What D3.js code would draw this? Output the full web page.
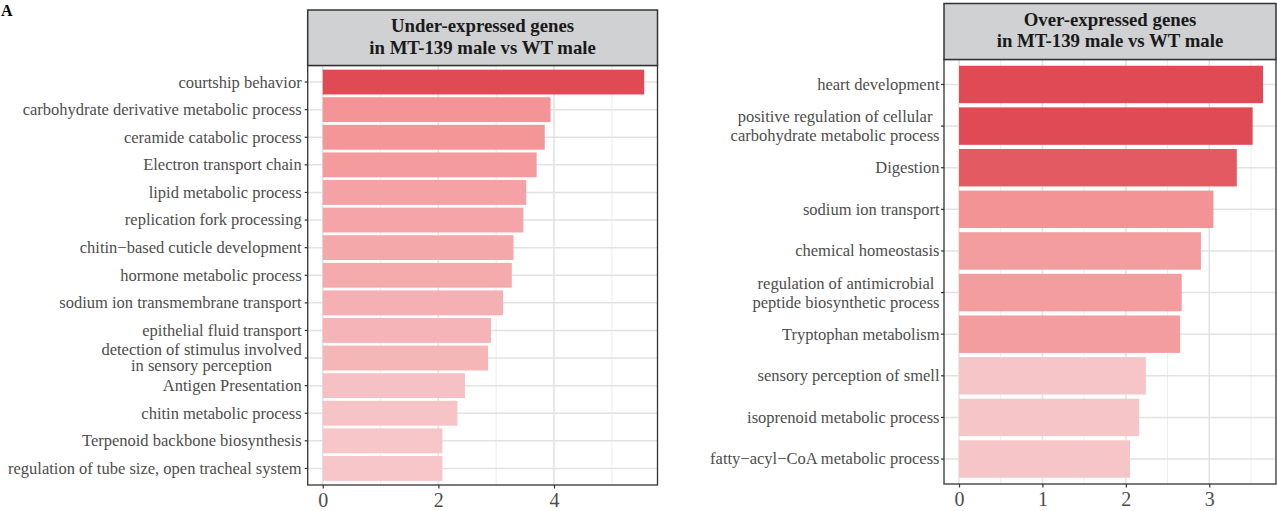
<!DOCTYPE html>
<html>
<head>
<meta charset="utf-8">
<script src="https://cdn.jsdelivr.net/npm/d3@7/dist/d3.min.js"></script>
<style>
  html, body { margin: 0; padding: 0; background: #fff; }
  svg { display: block; }
  text { font-family: "Liberation Serif", "Times New Roman", serif; }
</style>
</head>
<body>
<svg id="chart" width="1277" height="511"></svg>
<script>
// GO / pathway terms enriched among under-expressed genes (top to bottom)
const underTerms = [
  "courtship behavior",
  "carbohydrate derivative metabolic process",
  "ceramide catabolic process",
  "Electron transport chain",
  "lipid metabolic process",
  "replication fork processing",
  "chitin\u2212based cuticle development",
  "hormone metabolic process",
  "sodium ion transmembrane transport",
  "epithelial fluid transport",
  "detection of stimulus involved\nin sensory perception",
  "Antigen Presentation",
  "chitin metabolic process",
  "Terpenoid backbone biosynthesis",
  "regulation of tube size, open tracheal system"
];
// -log10(p) for each under-expressed term
const underValues = [5.56, 3.94, 3.84, 3.70, 3.52, 3.47, 3.30, 3.27, 3.12, 2.91, 2.86, 2.46, 2.33, 2.07, 2.07];
// relative significance (0-1) used for bar shading
const underShade = [1.0, 0.48, 0.46, 0.42, 0.35, 0.33, 0.30, 0.28, 0.22, 0.185, 0.17, 0.065, 0.046, 0.02, 0.02];

// terms enriched among over-expressed genes (top to bottom)
const overTerms = [
  "heart development",
  "positive regulation of cellular\ncarbohydrate metabolic process",
  "Digestion",
  "sodium ion transport",
  "chemical homeostasis",
  "regulation of antimicrobial\npeptide biosynthetic process",
  "Tryptophan metabolism",
  "sensory perception of smell",
  "isoprenoid metabolic process",
  "fatty\u2212acyl\u2212CoA metabolic process"
];
const overValues = [3.645, 3.52, 3.33, 3.05, 2.90, 2.67, 2.65, 2.24, 2.16, 2.05];
const overShade = [1.0, 1.0, 0.89, 0.49, 0.40, 0.40, 0.40, 0.03, 0.03, 0.03];

const underTicks = [0, 2, 4];
const underMinor = [1, 3, 5];
const overTicks = [0, 1, 2, 3];
const overMinor = [0.5, 1.5, 2.5, 3.5];

const underTitle = ["Under-expressed genes", "in MT-139 male vs WT male"];
const overTitle = ["Over-expressed genes", "in MT-139 male vs WT male"];

const svg = d3.select("#chart");

// light pink -> salmon -> red
const shadeScale = d3.scaleLinear()
  .domain([0, 0.5, 1])
  .range(["#f6c8cb", "#f49294", "#e04a55"])
  .interpolate(d3.interpolateRgb);

function drawPanel(cfg) {
  const g = svg.append("g");
  const x = d3.scaleLinear().domain(cfg.xDomain).range([cfg.left, cfg.right]);
  const y = d3.scaleBand().domain(cfg.terms)
    .range([cfg.top, cfg.bottom])
    .paddingInner(0.1).paddingOuter(0.15);

  // panel background
  g.append("rect")
    .attr("x", cfg.left).attr("y", cfg.top)
    .attr("width", cfg.right - cfg.left).attr("height", cfg.bottom - cfg.top)
    .attr("fill", "#fff");

  // minor grid
  g.selectAll(".minor").data(cfg.minor).join("line")
    .attr("x1", d => x(d)).attr("x2", d => x(d))
    .attr("y1", cfg.top).attr("y2", cfg.bottom)
    .attr("stroke", "#e8e8e8").attr("stroke-width", 0.8);
  // major grid
  g.selectAll(".majorx").data(cfg.ticks).join("line")
    .attr("x1", d => x(d)).attr("x2", d => x(d))
    .attr("y1", cfg.top).attr("y2", cfg.bottom)
    .attr("stroke", "#e2e2e2").attr("stroke-width", 1.5);
  g.selectAll(".majory").data(cfg.terms).join("line")
    .attr("x1", cfg.left).attr("x2", cfg.right)
    .attr("y1", d => y(d) + y.bandwidth() / 2).attr("y2", d => y(d) + y.bandwidth() / 2)
    .attr("stroke", "#e2e2e2").attr("stroke-width", 1.5);

  // bars
  g.selectAll(".bar").data(cfg.terms).join("rect")
    .attr("x", x(0))
    .attr("y", d => y(d))
    .attr("width", (d, i) => x(cfg.values[i]) - x(0))
    .attr("height", y.bandwidth())
    .attr("fill", (d, i) => shadeScale(cfg.shade[i]));

  // panel border
  g.append("rect")
    .attr("x", cfg.left).attr("y", cfg.top)
    .attr("width", cfg.right - cfg.left).attr("height", cfg.bottom - cfg.top)
    .attr("fill", "none").attr("stroke", "#333").attr("stroke-width", 1.3);

  // strip with title
  g.append("rect")
    .attr("x", cfg.left).attr("y", cfg.stripTop)
    .attr("width", cfg.right - cfg.left).attr("height", cfg.top - cfg.stripTop)
    .attr("fill", "#d0d1d3").attr("stroke", "#333").attr("stroke-width", 1.5);
  const cx = (cfg.left + cfg.right) / 2;
  const title = g.append("text")
    .attr("text-anchor", "middle")
    .attr("font-size", 18.8).attr("font-weight", "bold")
    .attr("fill", "#1a1a1a");
  cfg.title.forEach((t, i) => {
    title.append("tspan")
      .attr("x", cx).attr("y", cfg.stripTop + 22 + i * 21.5)
      .text(t);
  });

  // x axis
  const xAxis = d3.axisBottom(x).tickValues(cfg.ticks).tickSize(3.5).tickSizeOuter(0).tickFormat(d3.format("d"));
  const ax = g.append("g").attr("transform", `translate(0,${cfg.bottom})`).call(xAxis);
  ax.select(".domain").remove();
  ax.selectAll(".tick line").attr("stroke", "#333").attr("stroke-width", 1.2);
  ax.selectAll(".tick text")
    .attr("y", 8).attr("dy", "0.71em")
    .attr("font-size", 20).attr("fill", "#4d4d4d")
    .attr("font-family", "Liberation Serif, serif");

  // y ticks
  g.selectAll(".ytick").data(cfg.terms).join("line")
    .attr("x1", cfg.left - 3).attr("x2", cfg.left)
    .attr("y1", d => y(d) + y.bandwidth() / 2).attr("y2", d => y(d) + y.bandwidth() / 2)
    .attr("stroke", "#333").attr("stroke-width", 1.2);

  // y labels (multi-line labels are centered within their block)
  const endX = cfg.left - cfg.labelGap;
  cfg.terms.forEach(term => {
    const lines = term.split("\n");
    const cy = y(term) + y.bandwidth() / 2;
    const lab = g.append("text")
      .attr("font-size", 16.5).attr("fill", "#4d4d4d");
    const spans = lines.map((ln, i) => lab.append("tspan")
      .attr("y", cy + (i - (lines.length - 1) / 2) * cfg.lineGap)
      .attr("dy", "0.33em")
      .text(ln));
    if (lines.length === 1) {
      lab.attr("text-anchor", "end");
      spans[0].attr("x", endX);
    } else {
      const maxW = d3.max(spans, s => s.node().getComputedTextLength());
      lab.attr("text-anchor", "middle");
      spans.forEach(s => s.attr("x", endX - maxW / 2));
    }
  });
}

drawPanel({
  terms: underTerms, values: underValues, shade: underShade,
  ticks: underTicks, minor: underMinor, title: underTitle,
  xDomain: [-0.26, 5.79],
  left: 307.7, right: 657.5, top: 65.5, bottom: 485, stripTop: 10,
  labelGap: 6, lineGap: 16
});

drawPanel({
  terms: overTerms, values: overValues, shade: overShade,
  ticks: overTicks, minor: overMinor, title: overTitle,
  xDomain: [-0.18, 3.80],
  left: 944, right: 1276, top: 59.5, bottom: 484, stripTop: 3.5,
  labelGap: 4.5, lineGap: 19
});

// panel tag
svg.append("text")
  .attr("x", 1).attr("y", 16)
  .attr("font-size", 16).attr("font-weight", "bold").attr("fill", "#000")
  .text("A");
</script>
</body>
</html>
